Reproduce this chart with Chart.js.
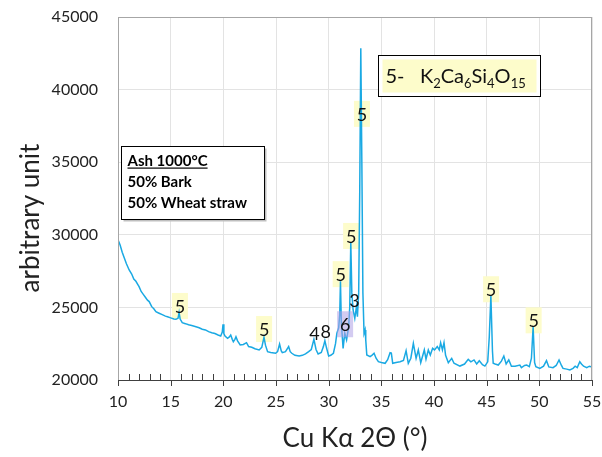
<!DOCTYPE html>
<html>
<head>
<meta charset="utf-8">
<script src="https://cdn.jsdelivr.net/npm/chart.js@4.4.0/dist/chart.umd.min.js"></script>
<style>
  body { margin: 0; background: #fff; }
  canvas { display: block; }
</style>
</head>
<body>
<canvas id="xrd" width="602" height="457"></canvas>
<script>
// 2-theta positions (deg) and measured counts
const twoTheta = [
  10.0, 10.2, 10.4, 10.6, 10.8, 11.06, 11.3, 11.5, 11.7, 11.9, 12.0, 12.2, 12.4, 12.6, 12.8, 12.96,
  13.2, 13.4, 13.6, 13.9, 14.2, 14.5, 14.7, 15.0, 15.3, 15.5, 15.7, 15.8, 15.9, 16.1, 16.4, 16.7,
  17.0, 17.4, 17.7, 18.0, 18.3, 18.6, 18.9, 19.2, 19.5, 19.75, 19.9, 19.97, 20.05, 20.16, 20.4, 20.55,
  20.7, 20.85, 20.95, 21.1, 21.2, 21.35, 21.6, 21.9, 22.2, 22.4, 22.7, 23.0, 23.4, 23.65, 23.86, 24.0,
  24.2, 24.5, 24.96, 25.15, 25.34, 25.5, 25.6, 25.9, 26.2, 26.35, 26.5, 26.8, 27.2, 27.5, 27.8, 28.1,
  28.35, 28.6, 28.8, 29.0, 29.3, 29.5, 29.64, 29.8, 30.0, 30.2, 30.45, 30.65, 30.78, 30.95, 31.05, 31.12,
  31.2, 31.37, 31.53, 31.7, 31.9, 32.0, 32.1, 32.2, 32.32, 32.48, 32.64, 32.73, 32.85, 32.95, 33.05, 33.15,
  33.25, 33.36, 33.46, 33.52, 33.62, 33.93, 34.1, 34.31, 34.5, 34.72, 35.0, 35.36, 35.6, 35.83, 35.95, 36.08,
  36.4, 36.78, 37.1, 37.35, 37.56, 37.8, 38.04, 38.3, 38.51, 38.74, 39.08, 39.24, 39.46, 39.65, 39.87, 40.05,
  40.31, 40.5, 40.63, 40.8, 40.95, 41.1, 41.36, 41.68, 41.9, 42.46, 42.9, 43.25, 43.5, 43.8, 44.05, 44.3,
  44.6, 44.83, 45.1, 45.25, 45.4, 45.55, 45.62, 45.8, 46.1, 46.4, 46.63, 46.85, 47.1, 47.35, 47.7, 48.15,
  48.3, 48.6, 48.8, 49.05, 49.25, 49.41, 49.55, 49.67, 50.05, 50.4, 50.68, 50.9, 51.3, 51.6, 51.87, 52.1,
  52.25, 52.6, 52.9, 53.2, 53.4, 53.6, 53.84, 54.0, 54.2, 54.5, 54.75, 55.0
];
const counts = [
  29650, 29300, 28800, 28400, 28000, 27580, 27300, 26950, 26800, 26550, 26430, 26100, 25900, 25700, 25500, 25400,
  25050, 24900, 24700, 24600, 24500, 24400, 24360, 24280, 24200, 24180, 24250, 24650, 24200, 23950, 23880, 23800,
  23750, 23670, 23600, 23500, 23450, 23330, 23250, 23200, 23100, 23030, 23300, 23840, 23200, 23030, 22870, 22950,
  23100, 22800, 22640, 22800, 22980, 22700, 22410, 22450, 22570, 22300, 22250, 22150, 22070, 22250, 22940, 22400,
  21950, 21900, 21840, 21950, 22480, 22000, 21880, 21950, 22300, 21950, 21840, 21700, 21650, 21700, 21800, 21950,
  22100, 22800, 22100, 21790, 21900, 22300, 22710, 22200, 21650, 21700, 21840, 22500, 23220, 23600, 24500, 26800,
  24000, 22180, 23220, 22760, 23670, 25000, 29500, 26000, 24820, 24250, 25050, 24360, 26000, 33000, 42850, 35000,
  26000, 23200, 23450, 22760, 21720, 21610, 21700, 21840, 21500, 21260, 21200, 21150, 21400, 21880, 21850, 21150,
  21200, 21260, 21350, 22020, 21150, 21500, 22530, 21490, 22070, 21190, 22070, 21430, 22070, 21720, 22180, 22070,
  22300, 22070, 22570, 22070, 22570, 21700, 21190, 21490, 21150, 20960, 21100, 21420, 21250, 21380, 21100, 21330,
  21050, 20960, 21250, 23000, 25800, 22000, 21150, 21100, 21030, 21300, 21650, 21100, 21380, 20950, 20950, 21030,
  20850, 21000, 21030, 20920, 21500, 23670, 21200, 20920, 20800, 20950, 21330, 20900, 20850, 21000, 21380, 21000,
  20800, 20750, 20690, 20800, 20950, 20850, 21260, 21100, 20950, 20850, 20950, 20900
];

// phase tags on the peaks (centre of each tag in data units)
const tagX    = [15.88, 23.87, 28.65, 29.73, 31.56, 31.14, 32.13, 32.45, 33.16, 45.42, 49.46];
const tagY    = [25100, 23510, 23220, 23330, 23840, 27290, 29920, 25510, 38330, 26250, 24110];
const tagText = ['5', '5', '4', '8', '6', '5', '5', '3', '5', '5', '5'];
const tagFill = ['yellow', 'yellow', 'none', 'none', 'purple', 'yellow', 'yellow', 'none', 'yellow', 'yellow', 'yellow'];

const xTicks = [10, 15, 20, 25, 30, 35, 40, 45, 50, 55];
const yTicks = [20000, 25000, 30000, 35000, 40000, 45000];

const yTitle = 'arbitrary unit';
const sampleLines = ['Ash 1000°C', '50% Bark', '50% Wheat straw'];
const phaseKey = [['5-   K', ''], ['2', 'sub'], ['Ca', ''], ['6', 'sub'], ['Si', ''], ['4', 'sub'], ['O', ''], ['15', 'sub']];

const FONT = 'Lato, "Open Sans", sans-serif';

const points = twoTheta.map((t, i) => ({ x: t, y: counts[i] }));

// frame, minor x ticks, peak tags, y title and the two text boxes
const decor = {
  id: 'decor',
  beforeDatasetsDraw(chart) {
    const { ctx, scales: { x, y } } = chart;
    ctx.save();
    for (let i = 0; i < tagX.length; i++) {
      if (tagFill[i] !== 'yellow') continue;
      const px = x.getPixelForValue(tagX[i]);
      const py = y.getPixelForValue(tagY[i]);
      ctx.fillStyle = '#fdfccb';
      ctx.fillRect(px - 8, py - 13, 16, 26);
    }
    ctx.restore();
  },
  afterDatasetsDraw(chart) {
    const { ctx, chartArea: a, scales: { x, y } } = chart;
    ctx.save();

    // tags
    ctx.font = '18px ' + FONT;
    ctx.textAlign = 'center';
    ctx.textBaseline = 'middle';
    for (let i = 0; i < tagX.length; i++) {
      const px = x.getPixelForValue(tagX[i]);
      const py = y.getPixelForValue(tagY[i]);
      if (tagFill[i] === 'purple') {
        ctx.fillStyle = 'rgba(175, 160, 230, 0.55)';
        ctx.fillRect(px - 8, py - 13, 16, 26);
      }
      ctx.fillStyle = '#111';
      ctx.fillText(tagText[i], px, py + 1);
    }

    // y axis title, sits a bit below the middle of the axis
    ctx.save();
    ctx.translate(31, 218);
    ctx.rotate(-Math.PI / 2);
    ctx.font = '26px ' + FONT;
    ctx.fillStyle = '#222';
    ctx.fillText(yTitle, 0, 0);
    ctx.restore();

    // plot frame
    ctx.strokeStyle = '#a6a6a6';
    ctx.lineWidth = 1;
    ctx.strokeRect(a.left + 0.5, a.top + 0.5, a.right - a.left - 1, a.bottom - a.top);
    ctx.strokeStyle = '#404040';
    ctx.beginPath();
    ctx.moveTo(a.left, a.bottom + 0.5);
    ctx.lineTo(a.right, a.bottom + 0.5);
    ctx.stroke();

    // x ticks: minor inside every degree, major below every 5
    ctx.beginPath();
    for (let t = 10; t <= 55; t++) {
      const px = Math.round(x.getPixelForValue(t)) + 0.5;
      if (t % 5 === 0) {
        ctx.moveTo(px, a.bottom);
        ctx.lineTo(px, a.bottom + 6);
      } else {
        ctx.moveTo(px, a.bottom - 6);
        ctx.lineTo(px, a.bottom);
      }
    }
    ctx.stroke();

    // sample description box
    const bx = a.left + 3.5, by = 146.5, bw = 143, bh = 73;
    ctx.fillStyle = '#bfbfbf';
    ctx.fillRect(bx + 2, by + 2, bw, bh);
    ctx.fillStyle = '#fff';
    ctx.fillRect(bx, by, bw, bh);
    ctx.strokeStyle = '#000';
    ctx.strokeRect(bx, by, bw, bh);
    ctx.fillStyle = '#000';
    ctx.font = 'bold 15px ' + FONT;
    ctx.textAlign = 'left';
    ctx.textBaseline = 'alphabetic';
    sampleLines.forEach((s, i) => ctx.fillText(s, bx + 6, by + 19 + i * 21));
    const uw = ctx.measureText(sampleLines[0]).width;
    ctx.fillRect(bx + 6, by + 21, uw, 1.2);

    // phase key box
    const kx = 378.5, ky = 55.5, kw = 162, kh = 41;
    ctx.fillStyle = '#fff';
    ctx.fillRect(kx, ky, kw, kh);
    ctx.fillStyle = '#fdfccb';
    ctx.fillRect(kx + 4, ky + 4, kw - 8, kh - 8);
    ctx.strokeStyle = '#000';
    ctx.strokeRect(kx, ky, kw, kh);
    ctx.fillStyle = '#111';
    let cx = kx + 7;
    const base = ky + 27;
    phaseKey.forEach(([s, kind]) => {
      ctx.font = (kind === 'sub' ? '13px ' : '20px ') + FONT;
      ctx.fillText(s, cx, kind === 'sub' ? base + 5 : base);
      cx += ctx.measureText(s).width;
    });

    ctx.restore();
  }
};

new Chart(document.getElementById('xrd'), {
  type: 'line',
  data: {
    datasets: [{
      data: points,
      borderColor: '#1aa9e3',
      borderWidth: 1.5,
      pointRadius: 0,
      tension: 0,
      fill: false
    }]
  },
  options: {
    responsive: false,
    animation: false,
    devicePixelRatio: 1,
    layout: { padding: { top: 17, right: 10, left: 0, bottom: 0 } },
    plugins: { legend: { display: false }, tooltip: { enabled: false } },
    scales: {
      x: {
        type: 'linear',
        min: 10,
        max: 55,
        afterBuildTicks: s => { s.ticks = xTicks.map(v => ({ value: v })); },
        afterFit: s => { s.height = 77; s.paddingLeft = 0; s.paddingRight = 0; },
        ticks: {
          padding: 12,
          color: '#222',
          font: { family: FONT, size: 16 },
          callback: v => String(v)
        },
        grid: { color: '#e3e3e3', drawTicks: false },
        border: { display: false },
        title: {
          display: true,
          text: 'Cu Kα 2Θ (°)',
          color: '#222',
          font: { family: FONT, size: 26 },
          padding: { top: 0, bottom: 3 }
        }
      },
      y: {
        min: 20000,
        max: 45000,
        afterBuildTicks: s => { s.ticks = yTicks.map(v => ({ value: v })); },
        afterFit: s => { s.width = 118; s.paddingTop = 0; s.paddingBottom = 0; },
        ticks: {
          padding: 20,
          color: '#222',
          font: { family: FONT, size: 16 },
          callback: v => String(v)
        },
        grid: { color: '#e3e3e3', drawTicks: false },
        border: { display: false },
        title: { display: false }
      }
    }
  },
  plugins: [decor]
});
</script>
</body>
</html>
